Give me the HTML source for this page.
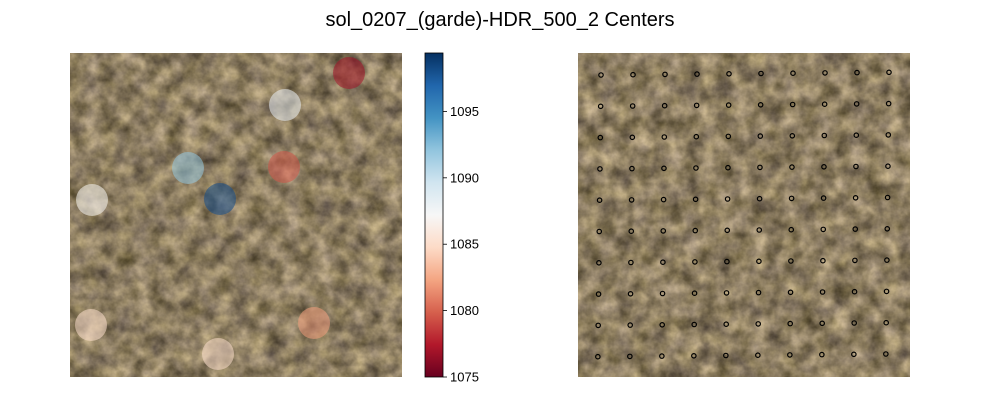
<!DOCTYPE html>
<html><head><meta charset="utf-8">
<style>
html,body{margin:0;padding:0;background:#fff;}
svg{display:block;font-family:"Liberation Sans","DejaVu Sans",sans-serif;}
</style></head>
<body>
<svg id="fig" width="1000" height="400" viewBox="0 0 1000 400">
<defs>
<filter id="rock" x="0" y="0" width="100%" height="100%" color-interpolation-filters="sRGB">
<feTurbulence type="fractalNoise" baseFrequency="0.06" numOctaves="4" seed="7" result="n"/>
<feColorMatrix in="n" type="matrix" values="
 0.65 0 0 0 0.225
 0.6 0 0 0 0.19
 0.5 0.1 0 0 0.08
 0 0 0 0 1"/>
</filter>
<filter id="rock2" x="0" y="0" width="100%" height="100%" color-interpolation-filters="sRGB">
<feTurbulence type="fractalNoise" baseFrequency="0.06" numOctaves="4" seed="19" result="n"/>
<feColorMatrix in="n" type="matrix" values="
 0.65 0 0 0 0.225
 0.6 0 0 0 0.19
 0.5 0.1 0 0 0.08
 0 0 0 0 1"/>
</filter>
<linearGradient id="rdbu" x1="0" y1="1" x2="0" y2="0">
<stop offset="0" stop-color="#67001f"/>
<stop offset="0.1" stop-color="#b2182b"/>
<stop offset="0.2" stop-color="#d6604d"/>
<stop offset="0.3" stop-color="#f4a582"/>
<stop offset="0.4" stop-color="#fddbc7"/>
<stop offset="0.5" stop-color="#f7f7f7"/>
<stop offset="0.6" stop-color="#d1e5f0"/>
<stop offset="0.7" stop-color="#92c5de"/>
<stop offset="0.8" stop-color="#4393c3"/>
<stop offset="0.9" stop-color="#2166ac"/>
<stop offset="1" stop-color="#053061"/>
</linearGradient>
</defs>
<text x="500" y="26" text-anchor="middle" font-size="20" fill="#000">sol_0207_(garde)-HDR_500_2 Centers</text>
<g>
<rect x="70" y="53" width="332" height="324" fill="#8a7a60"/>
<rect x="70" y="53" width="332" height="324" filter="url(#rock)"/>
<g id="leftMarks"></g>
</g>
<g>
<rect x="425" y="53" width="18" height="324" fill="url(#rdbu)" stroke="#000" stroke-width="0.8"/>
<g id="cbTicks"></g>
</g>
<g>
<rect x="578" y="53" width="332" height="324" fill="#8a7a60"/>
<rect x="578" y="53" width="332" height="324" filter="url(#rock2)"/>
<g id="gridMarks"></g>
</g>
</svg>
<script>
// Left panel: circle centers (pixel coords in image) and values
const circleX = [349, 285, 188, 284, 92, 220, 91, 218, 314];
const circleY = [73, 105, 168, 167, 200, 199, 325, 354, 323];
const circleValues = [1077, 1088, 1092, 1079.5, 1087, 1098, 1085, 1085, 1082];
const cbTicks = [1075, 1080, 1085, 1090, 1095];
const cbMin = 1075, cbMax = 1099.4;
// Right panel grid: 10 x 10 centers
const gridCols = [0,1,2,3,4,5,6,7,8,9];
const gridRows = [0,1,2,3,4,5,6,7,8,9];

const NS = "http://www.w3.org/2000/svg";
const stops = [[103,0,31],[178,24,43],[214,96,77],[244,165,130],[253,219,199],[247,247,247],[209,229,240],[146,197,222],[67,147,195],[33,102,172],[5,48,97]];
function cmap(v){
  let t = Math.max(0, Math.min(1, (v - cbMin) / (cbMax - cbMin))) * 10;
  let i = Math.min(9, Math.floor(t)), f = t - i;
  const a = stops[i], b = stops[i+1];
  return `rgb(${a.map((c,k)=>Math.round(c+(b[k]-c)*f)).join(',')})`;
}
const cbY = v => 377 - (v - cbMin) / (cbMax - cbMin) * 324;

const lm = document.getElementById('leftMarks');
circleValues.forEach((v, i) => {
  const c = document.createElementNS(NS, 'circle');
  c.setAttribute('cx', circleX[i]);
  c.setAttribute('cy', circleY[i]);
  c.setAttribute('r', 16);
  c.setAttribute('fill', cmap(v));
  c.setAttribute('fill-opacity', 0.55);
  
  
  lm.appendChild(c);
});

const ct = document.getElementById('cbTicks');
cbTicks.forEach(t => {
  const y = cbY(t);
  const l = document.createElementNS(NS, 'line');
  l.setAttribute('x1', 443); l.setAttribute('x2', 447);
  l.setAttribute('y1', y); l.setAttribute('y2', y);
  l.setAttribute('stroke', '#000'); l.setAttribute('stroke-width', 0.8);
  
  
  ct.appendChild(l);
  const tx = document.createElementNS(NS, 'text');
  tx.setAttribute('x', 450); tx.setAttribute('y', y + 4.5);
  tx.setAttribute('font-size', 13);
  tx.textContent = t;
  
  
  ct.appendChild(tx);
});

const gm = document.getElementById('gridMarks');
gridRows.forEach(r => {
  gridCols.forEach(c => {
    const x = 601 + c * 32 - r * 0.35;
    const y = 75 - c * 0.3 + r * 31.3;
    const e = document.createElementNS(NS, 'circle');
    e.setAttribute('cx', x); e.setAttribute('cy', y);
    e.setAttribute('r', 2.2);
    e.setAttribute('fill', 'none');
    e.setAttribute('stroke', '#000');
    e.setAttribute('stroke-width', 1.2);
    
    
    gm.appendChild(e);
  });
});
</script>
</body></html>
